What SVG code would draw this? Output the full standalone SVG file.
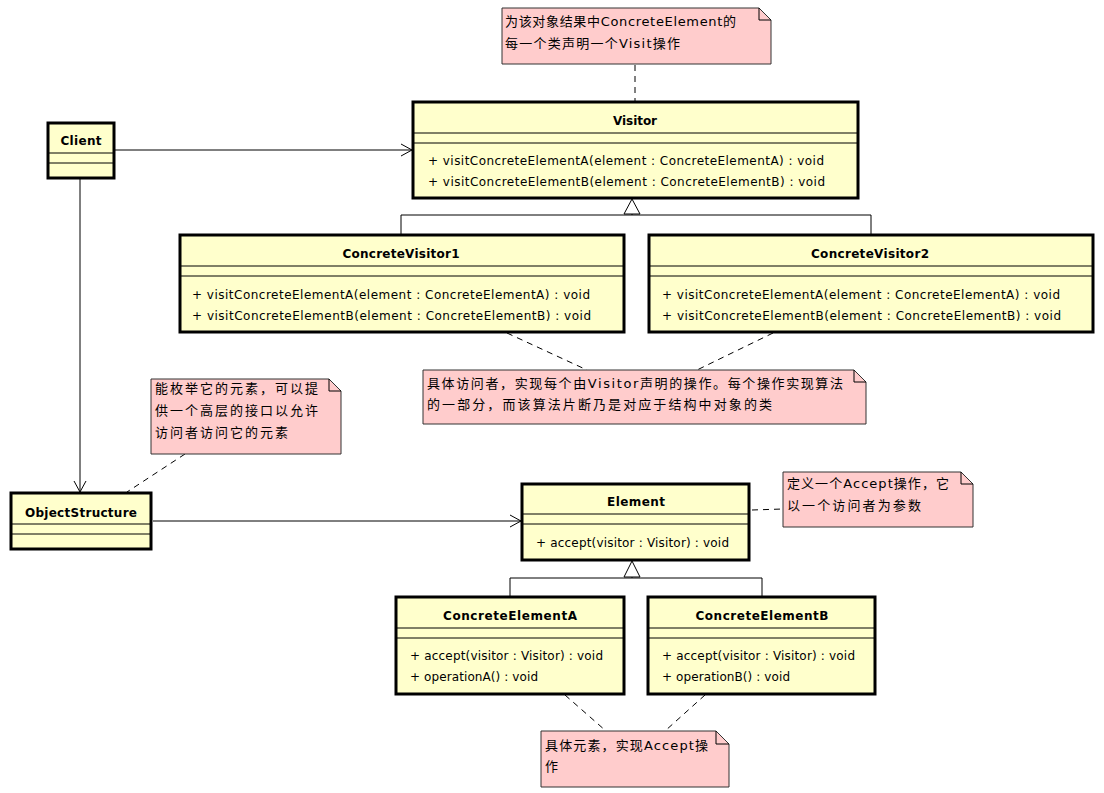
<svg xmlns="http://www.w3.org/2000/svg" width="1104" height="793" viewBox="0 0 1104 793">
<defs>
<style>
.box{fill:#FFFFCC;stroke:#000;stroke-width:3}
.sep{stroke:#000;stroke-width:1}
.note{fill:#FFCCCC;stroke:#333;stroke-width:1}
.title{font-family:"DejaVu Sans","Liberation Sans",sans-serif;font-size:12px;font-weight:bold;text-anchor:middle;fill:#000}
.m{font-family:"DejaVu Sans","Liberation Sans",sans-serif;font-size:12px;fill:#000}
.nt{font-family:"DejaVu Sans","Noto Sans CJK SC",sans-serif;font-size:13px;fill:#000}
.line{fill:none;stroke:#000;stroke-width:1}
.dash{fill:none;stroke:#000;stroke-width:1;stroke-dasharray:6,5}
</style>
<marker id="open" markerWidth="14" markerHeight="14" refX="12" refY="7" orient="auto" markerUnits="userSpaceOnUse">
<path d="M1,1 L12,7 L1,13" fill="none" stroke="#000" stroke-width="1"/>
</marker>
</defs>
<rect width="1104" height="793" fill="#fff"/>

<g id="connectors">
<line class="line" x1="115" y1="150" x2="412" y2="150" marker-end="url(#open)"/>
<line class="line" x1="80" y1="179" x2="80" y2="492" marker-end="url(#open)"/>
<line class="line" x1="153" y1="521" x2="521" y2="521" marker-end="url(#open)"/>
<path class="line" d="M401,235 V215 H871 V235 M632,215 V214"/>
<path d="M632,199 L624,214 L640,214 Z" fill="#fff" stroke="#000" stroke-width="1"/>
<path class="line" d="M510,597 V578 H762 V597 M632,578 V577"/>
<path d="M632,561 L624,577 L640,577 Z" fill="#fff" stroke="#000" stroke-width="1"/>
<line class="dash" x1="635" y1="65" x2="635" y2="101"/>
<line class="dash" x1="507" y1="333" x2="587" y2="370"/>
<line class="dash" x1="773" y1="333" x2="697" y2="370"/>
<line class="dash" x1="185" y1="454" x2="127" y2="492"/>
<line class="dash" x1="752" y1="510" x2="783" y2="509"/>
<line class="dash" x1="565" y1="695" x2="606" y2="731"/>
<line class="dash" x1="705" y1="695" x2="665" y2="731"/>
</g>

<g id="note-visitor">
<path class="note" d="M502,8 H759 L771,20 V64 H502 Z"/>
<path class="line" stroke="#333" d="M759,8 V20 H771"/>
<text class="nt" x="505" y="26" textLength="231" lengthAdjust="spacing">为该对象结果中ConcreteElement的</text>
<text class="nt" x="505" y="48" textLength="175" lengthAdjust="spacing">每一个类声明一个Visit操作</text>
</g>

<g id="Visitor">
<rect class="box" x="413" y="102" width="445" height="96"/>
<line class="sep" x1="413" y1="133" x2="858" y2="133"/>
<line class="sep" x1="413" y1="143" x2="858" y2="143"/>
<text class="title" x="635" y="125" textLength="44" lengthAdjust="spacing">Visitor</text>
<text class="m" x="428" y="165" textLength="396" lengthAdjust="spacing">+ visitConcreteElementA(element : ConcreteElementA) : void</text>
<text class="m" x="428" y="186" textLength="397" lengthAdjust="spacing">+ visitConcreteElementB(element : ConcreteElementB) : void</text>
</g>

<g id="Client">
<rect class="box" x="48" y="123" width="66" height="55"/>
<line class="sep" x1="48" y1="153" x2="114" y2="153"/>
<line class="sep" x1="48" y1="163" x2="114" y2="163"/>
<text class="title" x="81" y="145" textLength="41" lengthAdjust="spacing">Client</text>
</g>

<g id="ConcreteVisitor1">
<rect class="box" x="180" y="235" width="444" height="97"/>
<line class="sep" x1="180" y1="266" x2="624" y2="266"/>
<line class="sep" x1="180" y1="276" x2="624" y2="276"/>
<text class="title" x="401" y="258" textLength="117" lengthAdjust="spacing">ConcreteVisitor1</text>
<text class="m" x="192" y="299" textLength="398" lengthAdjust="spacing">+ visitConcreteElementA(element : ConcreteElementA) : void</text>
<text class="m" x="192" y="320" textLength="399" lengthAdjust="spacing">+ visitConcreteElementB(element : ConcreteElementB) : void</text>
</g>

<g id="ConcreteVisitor2">
<rect class="box" x="649" y="235" width="444" height="97"/>
<line class="sep" x1="649" y1="266" x2="1093" y2="266"/>
<line class="sep" x1="649" y1="276" x2="1093" y2="276"/>
<text class="title" x="870" y="258" textLength="118" lengthAdjust="spacing">ConcreteVisitor2</text>
<text class="m" x="662" y="299" textLength="398" lengthAdjust="spacing">+ visitConcreteElementA(element : ConcreteElementA) : void</text>
<text class="m" x="662" y="320" textLength="399" lengthAdjust="spacing">+ visitConcreteElementB(element : ConcreteElementB) : void</text>
</g>

<g id="note-concretevisitor">
<path class="note" d="M423,370 H854 L866,382 V424 H423 Z"/>
<path class="line" stroke="#333" d="M854,370 V382 H866"/>
<text class="nt" x="427" y="388" textLength="416" lengthAdjust="spacing">具体访问者，实现每个由Visitor声明的操作。每个操作实现算法</text>
<text class="nt" x="427" y="409" textLength="345" lengthAdjust="spacing">的一部分，而该算法片断乃是对应于结构中对象的类</text>
</g>

<g id="note-objectstructure">
<path class="note" d="M151,379 H329 L341,391 V454 H151 Z"/>
<path class="line" stroke="#333" d="M329,379 V391 H341"/>
<text class="nt" x="155" y="393" textLength="163" lengthAdjust="spacing">能枚举它的元素，可以提</text>
<text class="nt" x="155" y="415" textLength="163" lengthAdjust="spacing">供一个高层的接口以允许</text>
<text class="nt" x="155" y="437" textLength="133" lengthAdjust="spacing">访问者访问它的元素</text>
</g>

<g id="ObjectStructure">
<rect class="box" x="11" y="493" width="140" height="56"/>
<line class="sep" x1="11" y1="524" x2="151" y2="524"/>
<line class="sep" x1="11" y1="534" x2="151" y2="534"/>
<text class="title" x="81" y="517" textLength="112" lengthAdjust="spacing">ObjectStructure</text>
</g>

<g id="Element">
<rect class="box" x="522" y="484" width="227" height="76"/>
<line class="sep" x1="522" y1="514" x2="749" y2="514"/>
<line class="sep" x1="522" y1="524" x2="749" y2="524"/>
<text class="title" x="636" y="506" textLength="58" lengthAdjust="spacing">Element</text>
<text class="m" x="536" y="547" textLength="193" lengthAdjust="spacing">+ accept(visitor : Visitor) : void</text>
</g>

<g id="note-element">
<path class="note" d="M783,472 H961 L973,484 V527 H783 Z"/>
<path class="line" stroke="#333" d="M961,472 V484 H973"/>
<text class="nt" x="787" y="488" textLength="162" lengthAdjust="spacing">定义一个Accept操作，它</text>
<text class="nt" x="787" y="510" textLength="134" lengthAdjust="spacing">以一个访问者为参数</text>
</g>

<g id="ConcreteElementA">
<rect class="box" x="396" y="597" width="228" height="97"/>
<line class="sep" x1="396" y1="628" x2="624" y2="628"/>
<line class="sep" x1="396" y1="638" x2="624" y2="638"/>
<text class="title" x="510" y="620" textLength="134" lengthAdjust="spacing">ConcreteElementA</text>
<text class="m" x="410" y="660" textLength="193" lengthAdjust="spacing">+ accept(visitor : Visitor) : void</text>
<text class="m" x="410" y="681" textLength="128" lengthAdjust="spacing">+ operationA() : void</text>
</g>

<g id="ConcreteElementB">
<rect class="box" x="648" y="597" width="227" height="97"/>
<line class="sep" x1="648" y1="628" x2="875" y2="628"/>
<line class="sep" x1="648" y1="638" x2="875" y2="638"/>
<text class="title" x="762" y="620" textLength="133" lengthAdjust="spacing">ConcreteElementB</text>
<text class="m" x="662" y="660" textLength="193" lengthAdjust="spacing">+ accept(visitor : Visitor) : void</text>
<text class="m" x="662" y="681" textLength="128" lengthAdjust="spacing">+ operationB() : void</text>
</g>

<g id="note-concreteelement">
<path class="note" d="M541,731 H716 L729,744 V787 H541 Z"/>
<path class="line" stroke="#333" d="M716,731 V744 H729"/>
<text class="nt" x="545" y="750" textLength="163" lengthAdjust="spacing">具体元素，实现Accept操</text>
<text class="nt" x="545" y="771">作</text>
</g>
</svg>
